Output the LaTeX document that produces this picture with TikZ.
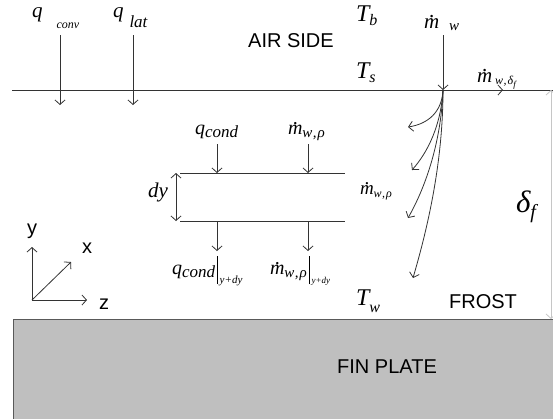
\RequirePackage{fix-cm}
\documentclass[tikz,border=0pt]{standalone}
\usepackage{fontspec}
\setmainfont{Liberation Sans}
\newfontfamily\tms{Liberation Serif}
\usetikzlibrary{arrows.meta}
\newcommand\msz[1]{\fontsize{#1}{#1}\selectfont}
\newcommand\mdot{\ooalign{m\cr\hidewidth\kern1.5pt\raisebox{0.5em}{.}\hidewidth\cr}}
\newcommand\sbx[3]{\raisebox{#1}{\msz{#2}#3}}
\tikzset{
  ln/.style={draw=black!80, line width=0.8pt},
  arr/.style={ln, -{Straight Barb[length=4.5pt,width=10pt]}},
  darr/.style={ln, {Straight Barb[length=4.5pt,width=10pt]}-{Straight Barb[length=4.5pt,width=10pt]}},
  lbl/.style={inner sep=0pt, outer sep=0pt},
  sans/.style={lbl, font=\msz{20}},
  mth/.style={lbl, anchor=base west, font=\tms\itshape\msz{19}},
}
\begin{document}
\begin{tikzpicture}[x=1pt,y=-1pt]
\useasboundingbox (0,0) rectangle (553,418);
% fin plate
\node[draw=black!65, line width=0.8pt, fill=gray!50, minimum width=560pt, minimum height=110pt, anchor=north west, inner sep=0pt] (plate) at (13,319) {};
\node[sans] (finlbl) at (387,367) {FIN PLATE};
% surface line
\coordinate (sl) at (12,90);
\coordinate (sr) at (556,90);
\draw[ln] (sl) -- (sr);
% frost thickness dimension
\coordinate (dt) at (551,90);
\coordinate (db) at (551,319);
\draw[draw=gray!45, line width=0.8pt, {Straight Barb[length=4.5pt,width=10pt]}-{Straight Barb[length=4.5pt,width=10pt]}] (dt) -- (db);
% q conv / q lat
\node[mth, font=\tms\itshape\msz{21}] (qconv) at (32,17) {q\hspace{14pt}\sbx{-11pt}{12}{conv}};
\node[mth, font=\tms\itshape\msz{21}] (qlat) at (113,17) {q\hspace{6pt}\sbx{-10pt}{17}{lat}};
\coordinate (qc1) at (60,35); \coordinate (qc2) at (60,105);
\coordinate (ql1) at (133,35); \coordinate (ql2) at (133,105);
\draw[arr] (qc1) -- (qc2);
\draw[arr] (ql1) -- (ql2);
% air side
\node[sans] (air) at (291,41) {AIR SIDE};
\node[mth, font=\tms\itshape\msz{24}] (Tb) at (356,21) {T\sbx{-4pt}{16}{b}};
\node[mth, font=\tms\itshape\msz{24}] (Ts) at (356,78) {T\sbx{-4pt}{16}{s}};
\node[mth, font=\tms\itshape\msz{24}] (Tw) at (356,305) {T\sbx{-7pt}{16}{w}};
% mass flux
\node[mth, font=\tms\itshape\msz{21}] (mw) at (424,28) {\mdot\hspace{10pt}\sbx{-2pt}{15}{w}};
\coordinate (m0) at (443,90);
\coordinate (mtop) at (443,35);
\coordinate (mright) at (503,90);
\draw[arr] (mtop) -- (m0);
\draw[arr] (m0) -- (mright);
\node[mth, font=\tms\itshape\msz{21}] (mwdf) at (477,82) {\mdot\hspace{3pt}\sbx{-2pt}{12}{w\kern0.5pt,\kern1pt δ\sbx{-3pt}{9}{f}}};
\coordinate (c1) at (408,127);
\coordinate (c2) at (412,170);
\coordinate (c3) at (408,218);
\coordinate (c4) at (413,278);
\draw[arr] (m0) .. controls (442,112) and (428,124) .. (c1);
\draw[arr] (m0) .. controls (441,125) and (428,152) .. (c2);
\draw[arr] (m0) .. controls (441,145) and (424,190) .. (c3);
\draw[arr] (m0) .. controls (443,170) and (424,240) .. (c4);
\node[mth] (mwr) at (360,194) {\mdot\sbx{-3pt}{12}{w\kern0.5pt,\kern1pt ρ}};
\node[mth, font=\tms\itshape\msz{31}] (df) at (516,212) {δ\sbx{-6pt}{20}{f}};
\node[sans] (frost) at (483,302) {FROST};
% control volume
\coordinate (bt1) at (180,173); \coordinate (bt2) at (345,173);
\coordinate (bb1) at (180,221); \coordinate (bb2) at (345,221);
\draw[ln] (bt1) -- (bt2);
\draw[ln] (bb1) -- (bb2);
\coordinate (dy1) at (176,173); \coordinate (dy2) at (176,221);
\draw[darr] (dy1) -- (dy2);
\node[mth, font=\tms\itshape\msz{21}] (dy) at (148,197) {dy};
\node[mth, font=\tms\itshape\msz{20}] (qcond) at (195,134) {q\sbx{-3pt}{17}{cond}};
\node[mth, font=\tms\itshape\msz{20}] (mwrt) at (288,134) {\mdot\sbx{-3pt}{15}{w\kern0.5pt,\kern1pt ρ}};
\coordinate (a1) at (217,144); \coordinate (a2) at (217,173);
\coordinate (b1) at (308,144); \coordinate (b2) at (308,173);
\coordinate (a3) at (217,221); \coordinate (a4) at (217,251);
\coordinate (b3) at (308,221); \coordinate (b4) at (308,251);
\draw[arr] (a1) -- (a2);
\draw[arr] (b1) -- (b2);
\draw[arr] (a3) -- (a4);
\draw[arr] (b3) -- (b4);
\node[mth, font=\tms\itshape\msz{20}] (qcb) at (172,274) {q\sbx{-3pt}{17}{cond}\hspace{2pt}\rule[-10pt]{0.7pt}{28pt}\hspace{2pt}\sbx{-9pt}{11}{y+dy}};
\node[mth, font=\tms\itshape\msz{20}] (mwb) at (270,274) {\mdot\sbx{-3pt}{15}{w\kern0.5pt,\kern1pt ρ}\hspace{2pt}\rule[-10pt]{0.7pt}{28pt}\hspace{2pt}\sbx{-9pt}{9}{y+dy}};
% axes
\coordinate (o) at (32,300);
\coordinate (ay) at (32,247);
\coordinate (az) at (87,300);
\coordinate (ax) at (71,262);
\draw[arr] (o) -- (ay);
\draw[arr] (o) -- (az);
\draw[arr] (o) -- (ax);
\node[sans] (ylbl) at (32,231) {y};
\node[sans] (xlbl) at (87,248) {x};
\node[sans] (zlbl) at (104,304) {z};
\end{tikzpicture}
\end{document}
